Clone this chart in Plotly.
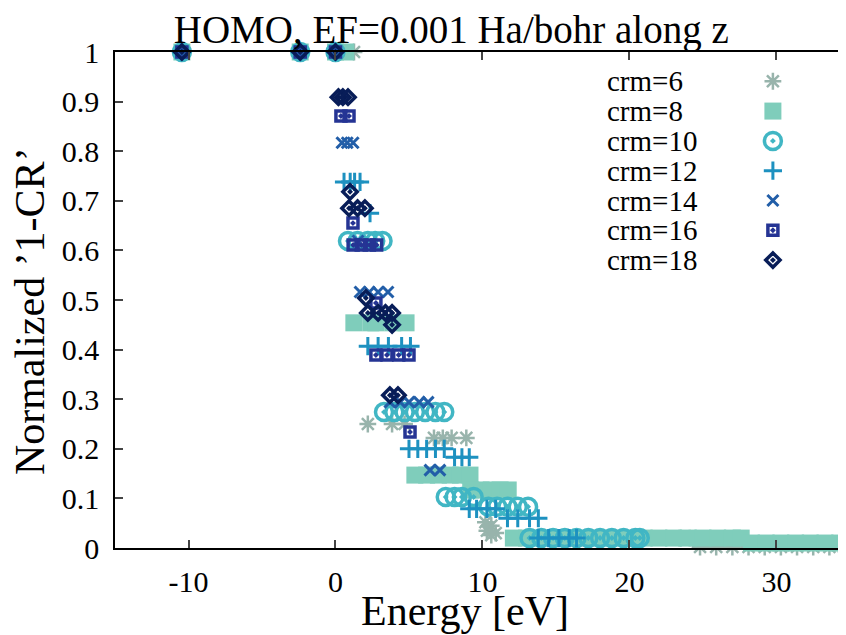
import plotly.graph_objects as go

# energies [eV] and normalized '1-CR' for each crm value
e_crm6 = [-10.45, -2.4, 0.0, 1.26, 2.2, 3.85, 4.7, 6.7, 7.3, 7.9, 8.9,
          10.2, 10.6, 10.3, 10.9, 10.6, 23.4, 24.1,
          24.8, 25.9, 27.0, 28.1, 29.2, 30.3, 31.4, 32.5, 33.6, 34.6]
y_crm6 = [1, 1, 1, 1, 0.25, 0.25, 0.25, 0.222, 0.222, 0.222, 0.222,
          0.052, 0.045, 0.035, 0.03, 0.026, 0.02, 0.02,
          0.002, 0.002, 0.002, 0.002, 0.002, 0.002, 0.002, 0.002, 0.002, 0.002]

e_crm8 = [-10.45, -2.4, 0.0, 0.7, 1.25, 2.4, 2.75, 3.9, 4.8,
          5.4, 6.2, 7.0, 7.8, 8.5, 9.15, 9.2, 9.9, 10.6, 11.2, 11.75,
          12.1, 13.0, 14.0, 15.0, 16.0, 17.0, 18.0, 19.0, 20.0, 21.0, 22.0,
          23.0, 24.0, 25.0, 26.0, 27.0, 27.6,
          28.3, 29.3, 30.3, 31.3, 32.3, 33.3, 34.3]
y_crm8 = [1, 1, 1, 1, 0.454, 0.454, 0.454, 0.454, 0.454,
          0.147, 0.147, 0.147, 0.147, 0.147, 0.147, 0.117, 0.117, 0.117, 0.117, 0.117,
          0.02, 0.02, 0.02, 0.02, 0.02, 0.02, 0.02, 0.02, 0.02, 0.02, 0.02,
          0.02, 0.02, 0.02, 0.02, 0.02, 0.02,
          0.01, 0.01, 0.01, 0.01, 0.01, 0.01, 0.01]

e_crm10 = [-10.45, -2.4, 0.0, 0.85, 1.5, 2.2, 2.7, 3.2,
           3.3, 4.0, 4.7, 5.4, 6.1, 6.8, 7.4, 7.5, 8.1, 8.6, 9.4,
           10.4, 11.0, 11.7, 12.4, 13.1,
           13.2, 14.0, 14.8, 15.6, 16.4, 17.2, 18.0, 18.8, 19.6, 20.4, 20.7]
y_crm10 = [1, 1, 1, 0.619, 0.619, 0.619, 0.619, 0.619,
           0.274, 0.274, 0.274, 0.274, 0.274, 0.274, 0.274, 0.103, 0.103, 0.103, 0.103,
           0.083, 0.083, 0.083, 0.083, 0.083,
           0.02, 0.02, 0.02, 0.02, 0.02, 0.02, 0.02, 0.02, 0.02, 0.02, 0.02]

e_crm12 = [-10.45, -2.4, 0.0, 0.58, 1.0, 1.3, 1.67, 2.35,
           2.2, 2.9, 3.6, 4.5, 5.1, 5.0, 5.6, 6.2, 6.8, 7.4, 8.1, 8.6, 9.1,
           9.1, 9.6, 10.3, 10.9, 11.7, 12.4, 13.2, 13.8,
           13.8, 14.5, 15.2, 15.9, 16.4]
y_crm12 = [1, 1, 1, 0.738, 0.738, 0.738, 0.738, 0.675,
           0.407, 0.407, 0.407, 0.407, 0.407, 0.2, 0.2, 0.2, 0.2, 0.2, 0.183, 0.183, 0.183,
           0.079, 0.079, 0.079, 0.079, 0.06, 0.06, 0.06, 0.06,
           0.02, 0.02, 0.02, 0.02, 0.02]

e_crm14 = [-10.45, -2.4, 0.0, 0.44, 0.8, 1.2, 1.53, 1.67, 2.3, 2.9, 3.57,
           3.7, 4.4, 5.0, 5.7, 6.3, 6.43, 7.1]
y_crm14 = [1, 1, 1, 0.817, 0.817, 0.817, 0.619, 0.516, 0.516, 0.516, 0.516,
           0.294, 0.294, 0.294, 0.294, 0.294, 0.157, 0.157]

e_crm16 = [-10.45, -2.4, 0.0, 0.37, 0.92, 1.19, 1.2, 1.75, 2.3, 2.8, 2.75,
           2.75, 3.5, 4.3, 5.0, 5.07]
y_crm16 = [1, 1, 1, 0.871, 0.871, 0.655, 0.611, 0.611, 0.611, 0.611, 0.494,
           0.389, 0.389, 0.389, 0.389, 0.234]

e_crm18 = [-10.45, -2.4, 0.0, 0.2, 0.5, 0.85, 0.99, 0.92, 1.5, 2.0, 2.07,
           2.2, 2.9, 3.4, 3.85, 3.85, 3.7, 4.25]
y_crm18 = [1, 1, 1, 0.909, 0.909, 0.909, 0.718, 0.685, 0.685, 0.685, 0.504,
           0.474, 0.474, 0.474, 0.474, 0.45, 0.308, 0.308]

names = ["crm=6", "crm=8", "crm=10", "crm=12", "crm=14", "crm=16", "crm=18"]
energies = [e_crm6, e_crm8, e_crm10, e_crm12, e_crm14, e_crm16, e_crm18]
values = [y_crm6, y_crm8, y_crm10, y_crm12, y_crm14, y_crm16, y_crm18]

x_ticks = [-10, 0, 10, 20, 30]
x_tick_labels = ["-10", "0", "10", "20", "30"]

colors = ["#98b4ac", "#7fcdbb", "#41b6c4", "#1d91c0", "#225ea8", "#253494", "#081d58"]
symbols = ["asterisk-open", "square", "circle-open-dot", "cross-thin-open",
           "x-thin-open", "square-open-dot", "diamond-open-dot"]
sizes = [14, 17, 17, 13, 11, 10, 11]
widths = [2.5, 0, 3.5, 3, 3, 3.5, 3.5]

FONT = "Liberation Serif, Times New Roman, serif"

fig = go.Figure()

for e, v, c, s, sz, w in zip(energies, values, colors, symbols, sizes, widths):
    fig.add_trace(go.Scatter(
        x=e, y=v, mode="markers", cliponaxis=False, showlegend=False,
        marker=dict(symbol=s, size=sz, color=c, line=dict(width=w, color=c)),
    ))

# gnuplot style key: label on the left, symbol on the right
key_x = 0.9
key_text_x = 0.67
key_top = 0.941
key_step = 0.0601
for i, (n, c, s, sz, w) in enumerate(zip(names, colors, symbols, sizes, widths)):
    ky = key_top - i * key_step
    fig.add_trace(go.Scatter(
        x=[key_x], y=[ky], xaxis="x2", yaxis="y2", mode="markers",
        cliponaxis=False, showlegend=False, hoverinfo="skip",
        marker=dict(symbol=s, size=sz, color=c, line=dict(width=w, color=c)),
    ))
    fig.add_annotation(x=key_text_x, y=ky, xref="paper", yref="paper", text=n,
                       showarrow=False, xanchor="left", yanchor="middle",
                       font=dict(family=FONT, size=29, color="black"))

fig.add_annotation(x=0.479, y=-0.127, xref="paper", yref="paper", text="Energy [eV]",
                   showarrow=False, xanchor="center", yanchor="middle",
                   font=dict(family=FONT, size=42, color="black"))
fig.add_annotation(x=-0.116, y=0.478, xref="paper", yref="paper", text="Normalized ’1-CR’",
                   showarrow=False, textangle=-90, xanchor="center", yanchor="middle",
                   font=dict(family=FONT, size=42, color="black"))

# page body has an 8px margin, so the figure is a bit smaller than the window
fig.update_layout(
    width=838, height=627,
    margin=dict(l=107, r=0, t=44, b=87),
    plot_bgcolor="white", paper_bgcolor="white",
    font=dict(family=FONT, size=30, color="black"),
    title=dict(text="HOMO, EF=0.001 Ha/bohr along z", x=0.46, xref="paper",
               xanchor="center", y=0.966, yref="container", yanchor="middle",
               font=dict(family=FONT, size=39, color="black")),
    xaxis=dict(range=[-15, 34.73], tickvals=x_ticks, ticktext=x_tick_labels,
               ticks="inside", ticklen=8, tickwidth=1.5, showline=True,
               linecolor="black", linewidth=1.5, mirror="ticks", showgrid=False,
               zeroline=False, ticklabelstandoff=6),
    yaxis=dict(range=[0, 1], dtick=0.1, ticks="inside", ticklen=8, tickwidth=1.5,
               showline=True, linecolor="black", linewidth=1.5, mirror=False,
               showgrid=False, zeroline=False, ticklabelstandoff=8),
    xaxis2=dict(range=[0, 1], overlaying="x", anchor="y2", visible=False),
    yaxis2=dict(range=[0, 1], overlaying="y", anchor="x2", visible=False),
)

fig.write_html("out.html")
